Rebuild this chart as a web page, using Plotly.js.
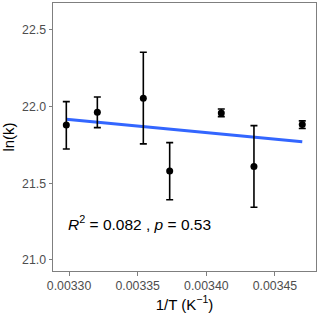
<!DOCTYPE html>
<html><head><meta charset="utf-8">
<script src="https://cdn.plot.ly/plotly-3.0.1.min.js"></script>
<style>html,body{margin:0;padding:0;background:#fff}#plot{width:320px;height:316px}</style>
</head><body><div id="plot"></div>
<script>
const invT = [0.003298, 0.0033206, 0.0033541, 0.0033733, 0.0034109, 0.0034347, 0.0034699];
const lnK = [21.881, 21.963, 22.055, 21.581, 21.959, 21.609, 21.883];
const errUp = [0.152, 0.100, 0.300, 0.184, 0.026, 0.267, 0.024];
const errDown = [0.157, 0.100, 0.298, 0.188, 0.024, 0.265, 0.026];
const xTicks = [0.00330, 0.00335, 0.00340, 0.00345];
const xTickText = ["0.00330", "0.00335", "0.00340", "0.00345"];
const yTicks = [21.0, 21.5, 22.0, 22.5];
const yTickText = ["21.0", "21.5", "22.0", "22.5"];
const statLabel = "<i>R</i><sup>2</sup> = 0.082 , <i>p</i> = 0.53";

// least-squares fit from the data
const n = invT.length;
const mx = invT.reduce((a,b)=>a+b,0)/n, my = lnK.reduce((a,b)=>a+b,0)/n;
let sxy=0, sxx=0;
for (let i=0;i<n;i++){ sxy+=(invT[i]-mx)*(lnK[i]-my); sxx+=(invT[i]-mx)**2; }
const slope = sxy/sxx, icpt = my - slope*mx;
const fitX = [Math.min(...invT), Math.max(...invT)];
const fitY = fitX.map(x=>icpt+slope*x);

const font = "Liberation Sans, Arial, sans-serif";
const data = [
  {x: fitX, y: fitY, mode:'lines', line:{color:'#3366FF', width:3}, hoverinfo:'skip'},
  {x: invT, y: lnK, mode:'markers', marker:{color:'#000', size:7},
   error_y:{type:'data', symmetric:false, array:errUp, arrayminus:errDown, color:'#000', thickness:1.6, width:3.5}}
];
const axisCommon = {showgrid:false, zeroline:false, showline:true, mirror:true, linecolor:'#7F7F7F', linewidth:1,
  ticks:'outside', ticklen:3.5, tickcolor:'#7F7F7F', tickwidth:1, tickfont:{family:font, size:12.3, color:'#4D4D4D'}};
const layout = {
  width:320, height:316, margin:{l:53, r:4, t:3, b:45},
  paper_bgcolor:'#fff', plot_bgcolor:'#fff', showlegend:false,
  xaxis: Object.assign({}, axisCommon, {range:[0.0032883, 0.0034799], tickvals:xTicks, ticktext:xTickText,
    title:{text:'1/T (K<sup>\u22121</sup>)', font:{family:font, size:15, color:'#000'}, standoff:6}}),
  yaxis: Object.assign({}, axisCommon, {range:[20.928, 22.676], tickvals:yTicks, ticktext:yTickText,
    title:{text:'ln(k)', font:{family:font, size:15, color:'#000'}, standoff:6}}),
  annotations:[{x:0.003298, y:21.241, xref:'x', yref:'y', text:statLabel, showarrow:false,
    xanchor:'left', yanchor:'middle', font:{family:font, size:15.5, color:'#000'}}]
};
Plotly.newPlot('plot', data, layout, {staticPlot:true, displayModeBar:false});
</script></body></html>
